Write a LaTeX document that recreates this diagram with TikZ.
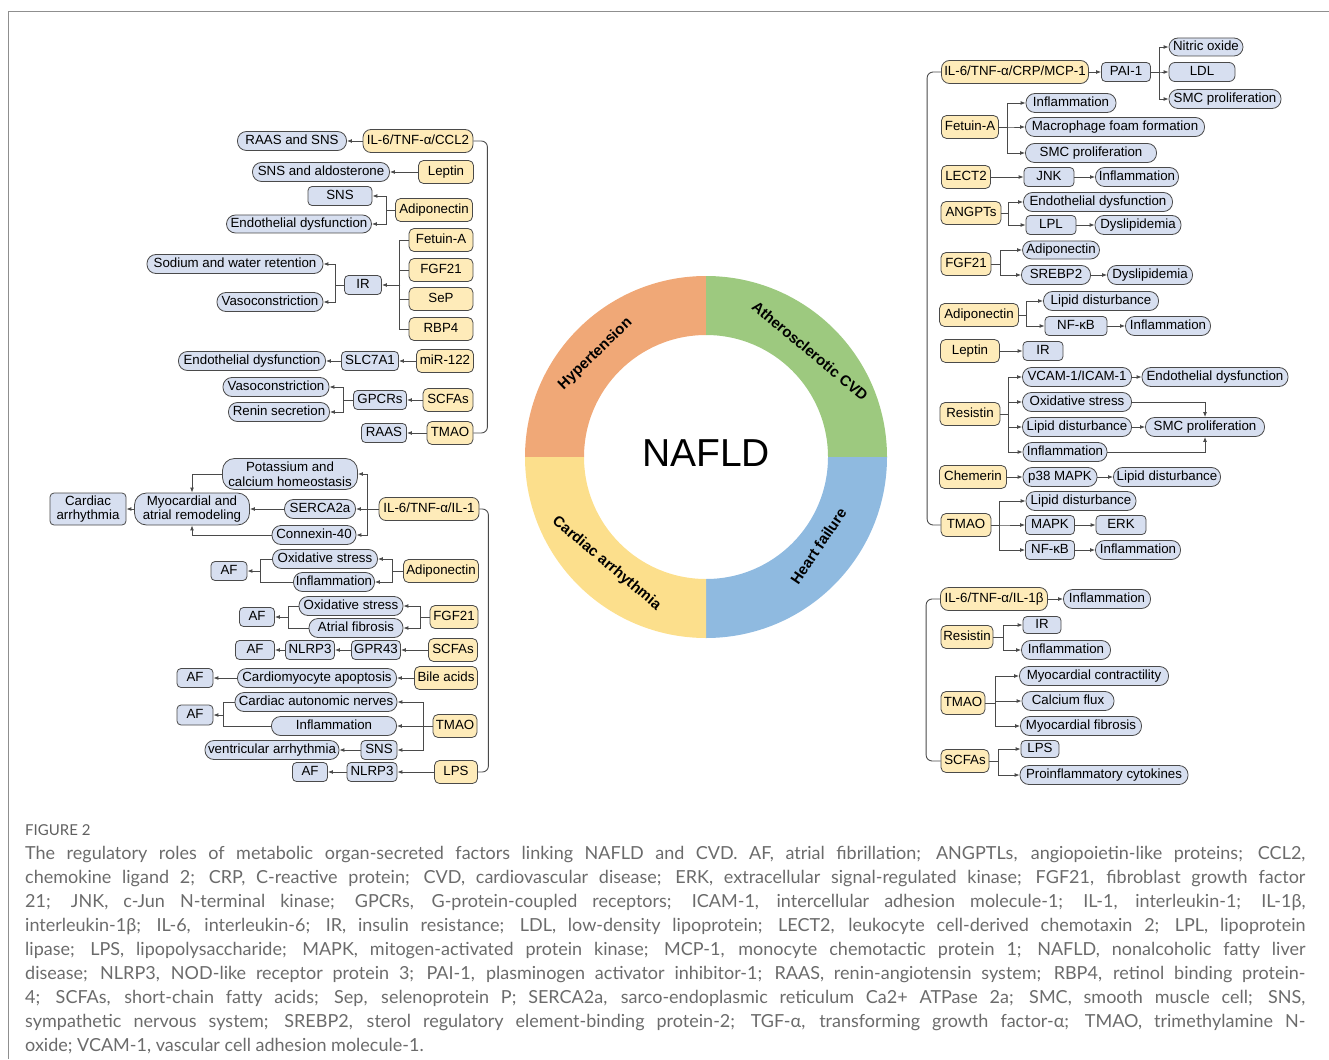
\documentclass[tikz,border=0pt]{standalone}
\usepackage{fontspec}
\setmainfont{Liberation Sans}
\newfontfamily\capfont{Lato}
\usetikzlibrary{arrows.meta}
\definecolor{yfill}{HTML}{FEEBB9}
\definecolor{bfill}{HTML}{D7DFF0}
\definecolor{bord}{HTML}{4A4A4A}
\definecolor{lcol}{HTML}{4A4A4A}
\definecolor{hypcol}{HTML}{F0A877}
\definecolor{athcol}{HTML}{9DC97F}
\definecolor{hfcol}{HTML}{8FBAE0}
\definecolor{cacol}{HTML}{FCDF8C}
\definecolor{capgray}{HTML}{6B6B6B}
\definecolor{framegray}{HTML}{8F8F8F}
\begin{document}
\begin{tikzpicture}[x=1pt,y=-1pt,
    boxbase/.style={draw=bord, line width=0.8pt, inner xsep=2pt, inner ysep=0pt,
        font=\fontsize{13.3}{14.5}\selectfont, align=center},
    onel/.style={text height=9.4pt, text depth=2.6pt},
    ybox/.style={boxbase, onel, fill=yfill, rounded corners=5pt, minimum height=23pt},
    bbox/.style={boxbase, onel, fill=bfill, rounded corners=4pt, minimum height=19pt},
    bpill/.style={bbox, rounded corners=9pt},
    ln/.style={draw=lcol, line width=0.9pt},
    arr/.style={ln, -{Latex[length=5pt,width=4pt]}},
    ringlab/.style={font=\bfseries\fontsize{15}{15}\selectfont, text height=10.5pt, text depth=3pt}]
    \useasboundingbox (0,0) rectangle (1329,1059);
    \draw[framegray, line width=1pt] (1329,12) -- (8,12) -- (8,1059);

    % ring
    \begin{scope}[shift={(706,457)}]
        \fill[hypcol] (90:181pt) arc[start angle=90, end angle=180, radius=181pt]
            -- (180:122pt) arc[start angle=180, end angle=90, radius=122pt] -- cycle;
        \fill[athcol] (0:181pt) arc[start angle=0, end angle=90, radius=181pt]
            -- (90:122pt) arc[start angle=90, end angle=0, radius=122pt] -- cycle;
        \fill[hfcol] (-90:181pt) arc[start angle=-90, end angle=0, radius=181pt]
            -- (0:122pt) arc[start angle=0, end angle=-90, radius=122pt] -- cycle;
        \fill[cacol] (180:181pt) arc[start angle=180, end angle=270, radius=181pt]
            -- (270:122pt) arc[start angle=270, end angle=180, radius=122pt] -- cycle;
        \node[ringlab, rotate=44] (hyp) at (137:151pt) {Hypertension};
        \node[ringlab, rotate=-40] (ath) at (45.5:147pt) {Atherosclerotic CVD};
        \node[ringlab, rotate=-40] (car) at (227:146pt) {Cardiac arrhythmia};
        \node[ringlab, rotate=56] (hf) at (-38.3:145pt) {Heart failure};
        \node[font=\fontsize{39}{39}\selectfont, inner sep=0pt] (nafld) at (0pt,4pt) {NAFLD};
    \end{scope}

    % hypertension
    \node[ybox, minimum width=110pt, rounded corners=8pt] (ht1) at (418,141) {IL-6/TNF-α/CCL2};
    \node[bpill, minimum width=109pt] (hb1) at (292,141) {RAAS and SNS};
    \node[ybox, minimum width=55pt] (ht2) at (446,172) {Leptin};
    \node[bpill, minimum width=137pt] (hb2) at (321,172) {SNS and aldosterone};
    \node[bbox, minimum width=64pt] (hb3) at (340,196) {SNS};
    \node[ybox, minimum width=77pt] (ht3) at (434,210) {Adiponectin};
    \node[bpill, minimum width=145pt, minimum height=18pt] (hb4) at (299,224) {Endothelial dysfunction};
    \node[ybox, minimum width=64pt] (ht4) at (441,240) {Fetuin-A};
    \node[ybox, minimum width=64pt] (ht5) at (441,270) {FGF21};
    \node[ybox, minimum width=64pt] (ht6) at (441,299) {SeP};
    \node[ybox, minimum width=64pt] (ht7) at (441,329) {RBP4};
    \node[bbox, minimum width=37pt] (hb5) at (363,285) {IR};
    \node[bpill, minimum width=176pt] (hb6) at (235,264) {Sodium and water retention};
    \node[bpill, minimum width=106pt] (hb7) at (270,302) {Vasoconstriction};
    \node[ybox, minimum width=57pt] (ht8) at (445,361) {miR-122};
    \node[bbox, minimum width=57pt] (hb8) at (370,361) {SLC7A1};
    \node[bpill, minimum width=147pt] (hb9) at (252,361) {Endothelial dysfunction};
    \node[ybox, minimum width=50pt] (ht9) at (448,400) {SCFAs};
    \node[bbox, minimum width=53pt] (hb10) at (380,400) {GPCRs};
    \node[bpill, minimum width=106pt] (hb11) at (276,387) {Vasoconstriction};
    \node[bpill, minimum width=101pt] (hb12) at (279,412) {Renin secretion};
    \node[ybox, minimum width=46pt] (ht10) at (450,433) {TMAO};
    \node[bbox, minimum width=45pt] (hb13) at (384,433) {RAAS};

    \draw[arr] (ht1) -- (hb1);
    \draw[arr] (ht2) -- (hb2);
    \foreach \t in {hb3,hb4}
        \draw[arr] (ht3.west) -- ++(-9,0) |- (\t.east);
    \draw[ln] (ht4.west) -- ++(-9,0) |- (ht7.west);
    \foreach \n in {ht5,ht6}
        \draw[ln] (\n.west) -- ++(-9,0);
    \draw[arr] ([xshift=18.5pt]hb5.east) -- (hb5.east);
    \foreach \t in {hb6,hb7}
        \draw[arr] (hb5.west) -- ++(-9,0) |- (\t.east);
    \draw[arr] (ht8) -- (hb8);
    \draw[arr] (hb8) -- (hb9);
    \draw[arr] (ht9) -- (hb10);
    \foreach \t in {hb11,hb12}
        \draw[arr] (hb10.west) -- ++(-10,0) |- (\t.east);
    \draw[arr] (ht10) -- (hb13);
    \draw[ln, rounded corners=6pt] (ht1.east) -- ++(14,0) |- (ht10.east);

    % cardiac arrhythmia
    \node[ybox, minimum width=100pt, rounded corners=7pt] (ct1) at (429,509) {IL-6/TNF-α/IL-1};
    \node[boxbase, fill=bfill, rounded corners=12pt, minimum width=135pt, minimum height=31pt] (cb1) at (290,474) {Potassium and\\calcium homeostasis};
    \node[bpill, minimum width=71pt] (cb2) at (320,509) {SERCA2a};
    \node[bpill, minimum width=84pt] (cb3) at (314,535) {Connexin-40};
    \node[boxbase, fill=bfill, rounded corners=12pt, minimum width=115pt, minimum height=32pt] (cb4) at (192,509) {Myocardial and\\atrial remodeling};
    \node[boxbase, fill=bfill, rounded corners=4pt, minimum width=76pt, minimum height=32pt] (cb5) at (88,509) {Cardiac\\arrhythmia};
    \node[ybox, minimum width=75pt] (ct2) at (441,571) {Adiponectin};
    \node[bpill, minimum width=105pt] (cb6) at (325,559) {Oxidative stress};
    \node[bpill, minimum width=81pt] (cb7) at (334,582) {Inflammation};
    \node[bbox, minimum width=36pt] (cb8) at (229,571) {AF};
    \node[ybox, minimum width=48pt] (ct3) at (454,617) {FGF21};
    \node[bpill, minimum width=104pt] (cb9) at (351,606) {Oxidative stress};
    \node[bpill, minimum width=94pt] (cb10) at (356,628) {Atrial fibrosis};
    \node[bbox, minimum width=35pt] (cb11) at (257,617) {AF};
    \node[ybox, minimum width=49pt] (ct4) at (453,650) {SCFAs};
    \node[bbox, minimum width=49pt] (cb12) at (376,650) {GPR43};
    \node[bbox, minimum width=49pt] (cb13) at (310,650) {NLRP3};
    \node[bbox, minimum width=39pt] (cb14) at (255,650) {AF};
    \node[ybox, minimum width=63pt] (ct5) at (446,678) {Bile acids};
    \node[bpill, minimum width=159pt] (cb15) at (317,678) {Cardiomyocyte apoptosis};
    \node[bbox, minimum width=36pt] (cb16) at (195,678) {AF};
    \node[ybox, minimum width=44pt] (ct6) at (455,726) {TMAO};
    \node[bpill, minimum width=162pt] (cb17) at (316,702) {Cardiac autonomic nerves};
    \node[bpill, minimum width=125pt] (cb18) at (334,726) {Inflammation};
    \node[bbox, minimum width=36pt] (cb19) at (379,750) {SNS};
    \node[bpill, minimum width=134pt] (cb20) at (272,750) {ventricular arrhythmia};
    \node[bbox, minimum width=36pt, minimum height=20pt] (cb21) at (195,715) {AF};
    \node[ybox, minimum width=43pt] (ct7) at (456,772) {LPS};
    \node[bbox, minimum width=50pt] (cb22) at (372,772) {NLRP3};
    \node[bbox, minimum width=35pt] (cb23) at (310,772) {AF};

    \foreach \t in {cb1,cb3}
        \draw[arr] (ct1.west) -- ++(-11,0) |- (\t.east);
    \draw[arr] (ct1) -- (cb2);
    \draw[arr] (cb2) -- (cb4);
    \draw[arr] (cb1.west) -| (cb4.north);
    \draw[arr] (cb3.west) -| (cb4.south);
    \draw[arr] (cb4) -- (cb5);
    \foreach \t in {cb6,cb7}
        \draw[arr] (ct2.west) -- ++(-11,0) |- (\t.east);
    \draw[ln] (cb6.west) -| ([xshift=13pt]cb8.east) |- (cb7.west);
    \draw[arr] ([xshift=13pt]cb8.east) -- (cb8.east);
    \foreach \t in {cb9,cb10}
        \draw[arr] (ct3.west) -- ++(-9,0) |- (\t.east);
    \draw[ln] (cb9.west) -| ([xshift=14pt]cb11.east) |- (cb10.west);
    \draw[arr] ([xshift=14pt]cb11.east) -- (cb11.east);
    \draw[arr] (ct4) -- (cb12);
    \draw[arr] (cb12) -- (cb13);
    \draw[arr] (cb13) -- (cb14);
    \draw[arr] (ct5) -- (cb15);
    \draw[arr] (cb15) -- (cb16);
    \foreach \t in {cb17,cb19}
        \draw[arr] (ct6.west) -- ++(-9,0) |- (\t.east);
    \draw[arr] (ct6) -- (cb18);
    \draw[ln] (cb17.west) -| ([xshift=10pt]cb21.east) |- (cb18.west);
    \draw[arr] ([xshift=10pt]cb21.east) -- (cb21.east);
    \draw[arr] (cb19) -- (cb20);
    \draw[arr] (ct7) -- (cb22);
    \draw[arr] (cb22) -- (cb23);
    \draw[ln, rounded corners=6pt] (ct1.east) -- ++(9,0) |- (ct7.east);

    % atherosclerotic CVD
    \node[ybox, minimum width=147pt, rounded corners=8pt] (at1) at (1015,72) {IL-6/TNF-α/CRP/MCP-1};
    \node[bbox, minimum width=49pt] (ab1) at (1126,72) {PAI-1};
    \node[bpill, minimum width=74pt, minimum height=18pt] (ab2) at (1206,47) {Nitric oxide};
    \node[bbox, minimum width=66pt, rounded corners=6pt] (ab3) at (1202,72) {LDL};
    \node[bpill, minimum width=112pt] (ab4) at (1225,99) {SMC proliferation};
    \node[ybox, minimum width=57pt] (at2) at (970,127) {Fetuin-A};
    \node[bpill, minimum width=90pt] (ab5) at (1071,103) {Inflammation};
    \node[bpill, minimum width=179pt] (ab6) at (1115,127) {Macrophage foam formation};
    \node[bpill, minimum width=131pt] (ab7) at (1091,153) {SMC proliferation};
    \node[ybox, minimum width=49pt] (at3) at (966,177) {LECT2};
    \node[bbox, minimum width=50pt] (ab8) at (1049,177) {JNK};
    \node[bpill, minimum width=83pt] (ab9) at (1137,177) {Inflammation};
    \node[ybox, minimum width=60pt] (at4) at (971,213) {ANGPTs};
    \node[bpill, minimum width=149pt] (ab10) at (1098,202) {Endothelial dysfunction};
    \node[bbox, minimum width=50pt] (ab11) at (1051,225) {LPL};
    \node[bpill, minimum width=86pt] (ab12) at (1138,225) {Dyslipidemia};
    \node[ybox, minimum width=50pt] (at5) at (966,264) {FGF21};
    \node[bpill, minimum width=77pt, minimum height=18pt] (ab13) at (1061,250) {Adiponectin};
    \node[bpill, minimum width=69pt] (ab14) at (1056,275) {SREBP2};
    \node[bpill, minimum width=85pt] (ab15) at (1150,275) {Dyslipidemia};
    \node[ybox, minimum width=79pt] (at6) at (979,315) {Adiponectin};
    \node[bpill, minimum width=115pt] (ab16) at (1101,301) {Lipid disturbance};
    \node[bbox, minimum width=62pt] (ab17) at (1076,326) {NF-κB};
    \node[bpill, minimum width=85pt] (ab18) at (1168,326) {Inflammation};
    \node[ybox, minimum width=59pt] (at7) at (970,351) {Leptin};
    \node[bbox, minimum width=40pt] (ab19) at (1043,351) {IR};
    \node[ybox, minimum width=60pt] (at8) at (970,414) {Resistin};
    \node[bpill, minimum width=109pt] (ab20) at (1077,377) {VCAM-1/ICAM-1};
    \node[bpill, minimum width=146pt] (ab21) at (1215,377) {Endothelial dysfunction};
    \node[bpill, minimum width=109pt] (ab22) at (1077,402) {Oxidative stress};
    \node[bpill, minimum width=109pt] (ab23) at (1077,427) {Lipid disturbance};
    \node[bpill, minimum width=119pt] (ab24) at (1205,427) {SMC proliferation};
    \node[bpill, minimum width=84pt] (ab25) at (1065,452) {Inflammation};
    \node[ybox, minimum width=67pt] (at9) at (973,477) {Chemerin};
    \node[bpill, minimum width=74pt] (ab26) at (1060,477) {p38 MAPK};
    \node[bpill, minimum width=107pt] (ab27) at (1167,477) {Lipid disturbance};
    \node[ybox, minimum width=50pt] (at10) at (966,525) {TMAO};
    \node[bpill, minimum width=110pt] (ab28) at (1081,501) {Lipid disturbance};
    \node[bbox, minimum width=49pt] (ab29) at (1050,525) {MAPK};
    \node[bbox, minimum width=50pt] (ab30) at (1121,525) {ERK};
    \node[bbox, minimum width=49pt] (ab31) at (1050,550) {NF-κB};
    \node[bpill, minimum width=85pt] (ab32) at (1138,550) {Inflammation};

    \draw[arr] (at1) -- (ab1);
    \foreach \t in {ab2,ab3,ab4}
        \draw[arr] (ab1.east) -- ++(9,0) |- (\t.west);
    \foreach \t in {ab5,ab6,ab7}
        \draw[arr] (at2.east) -- ++(9,0) |- (\t.west);
    \draw[arr] (at3) -- (ab8);
    \draw[arr] (ab8) -- (ab9);
    \foreach \t in {ab10,ab11}
        \draw[arr] (at4.east) -- ++(7,0) |- (\t.west);
    \draw[arr] (ab11) -- (ab12);
    \foreach \t in {ab13,ab14}
        \draw[arr] (at5.east) -- ++(9,0) |- (\t.west);
    \draw[arr] (ab14) -- (ab15);
    \foreach \t in {ab16,ab17}
        \draw[arr] (at6.east) -- ++(8,0) |- (\t.west);
    \draw[arr] (ab17) -- (ab18);
    \draw[arr] (at7) -- (ab19);
    \foreach \t in {ab20,ab22,ab23,ab25}
        \draw[arr] (at8.east) -- ++(8,0) |- (\t.west);
    \draw[arr] (ab20) -- (ab21);
    \draw[arr] (ab23) -- (ab24);
    \draw[arr] (ab22.east) -| (ab24.north);
    \draw[arr] (ab25.east) -| (ab24.south);
    \draw[arr] (at9) -- (ab26);
    \draw[arr] (ab26) -- (ab27);
    \foreach \t in {ab28,ab29,ab31}
        \draw[arr] (at10.east) -- ++(8,0) |- (\t.west);
    \draw[arr] (ab29) -- (ab30);
    \draw[arr] (ab31) -- (ab32);
    \draw[ln, rounded corners=6pt] (at1.west) -- ++(-14,0) |- (at10.west);

    % heart failure
    \node[ybox, minimum width=107pt, rounded corners=8pt] (ft1) at (994,599) {IL-6/TNF-α/IL-1β};
    \node[bpill, minimum width=87pt] (fb1) at (1107,599) {Inflammation};
    \node[ybox, minimum width=52pt] (ft2) at (967,637) {Resistin};
    \node[bbox, minimum width=38pt, minimum height=17pt] (fb2) at (1042,625) {IR};
    \node[bpill, minimum width=89pt] (fb3) at (1066,650) {Inflammation};
    \node[ybox, minimum width=44pt] (ft3) at (963,703) {TMAO};
    \node[bpill, minimum width=149pt] (fb4) at (1094,676) {Myocardial contractility};
    \node[bpill, minimum width=92pt] (fb5) at (1068,701) {Calcium flux};
    \node[bpill, minimum width=121pt] (fb6) at (1081,726) {Myocardial fibrosis};
    \node[ybox, minimum width=48pt] (ft4) at (965,761) {SCFAs};
    \node[bbox, minimum width=38pt, minimum height=17pt] (fb7) at (1040,749) {LPS};
    \node[bpill, minimum width=168pt] (fb8) at (1104,775) {Proinflammatory cytokines};

    \draw[arr] (ft1) -- (fb1);
    \foreach \t in {fb2,fb3}
        \draw[arr] (ft2.east) -- ++(10,0) |- (\t.west);
    \foreach \t in {fb4,fb5,fb6}
        \draw[arr] (ft3.east) -- ++(10,0) |- (\t.west);
    \foreach \t in {fb7,fb8}
        \draw[arr] (ft4.east) -- ++(9,0) |- (\t.west);
    \draw[ln, rounded corners=6pt] (ft1.west) -- ++(-14,0) |- (ft4.west);

    % caption
    \node[anchor=west, inner sep=0pt, text=capgray!90!black, font=\capfont\fontsize{15}{15}\selectfont] (fig) at (25,830) {FIGURE 2};
    \node[anchor=north west, inner sep=0pt, align=left, text=capgray,
          font=\capfont\fontsize{18}{24}\selectfont] (cap) at (25,846) {%
        \makebox[1280pt][s]{The regulatory roles of metabolic organ-secreted factors linking NAFLD and CVD. AF, atrial fibrillation; ANGPTLs, angiopoietin-like proteins; CCL2,}\\
        \makebox[1280pt][s]{chemokine ligand 2; CRP, C-reactive protein; CVD, cardiovascular disease; ERK, extracellular signal-regulated kinase; FGF21, fibroblast growth factor}\\
        \makebox[1280pt][s]{21; JNK, c-Jun N-terminal kinase; GPCRs, G-protein-coupled receptors; ICAM-1, intercellular adhesion molecule-1; IL-1, interleukin-1; IL-1β,}\\
        \makebox[1280pt][s]{interleukin-1β; IL-6, interleukin-6; IR, insulin resistance; LDL, low-density lipoprotein; LECT2, leukocyte cell-derived chemotaxin 2; LPL, lipoprotein}\\
        \makebox[1280pt][s]{lipase; LPS, lipopolysaccharide; MAPK, mitogen-activated protein kinase; MCP-1, monocyte chemotactic protein 1; NAFLD, nonalcoholic fatty liver}\\
        \makebox[1280pt][s]{disease; NLRP3, NOD-like receptor protein 3; PAI-1, plasminogen activator inhibitor-1; RAAS, renin-angiotensin system; RBP4, retinol binding protein-}\\
        \makebox[1280pt][s]{4; SCFAs, short-chain fatty acids; Sep, selenoprotein P; SERCA2a, sarco-endoplasmic reticulum Ca2+ ATPase 2a; SMC, smooth muscle cell; SNS,}\\
        \makebox[1280pt][s]{sympathetic nervous system; SREBP2, sterol regulatory element-binding protein-2; TGF-α, transforming growth factor-α; TMAO, trimethylamine N-}\\
        oxide; VCAM-1, vascular cell adhesion molecule-1.};
\end{tikzpicture}
\end{document}
